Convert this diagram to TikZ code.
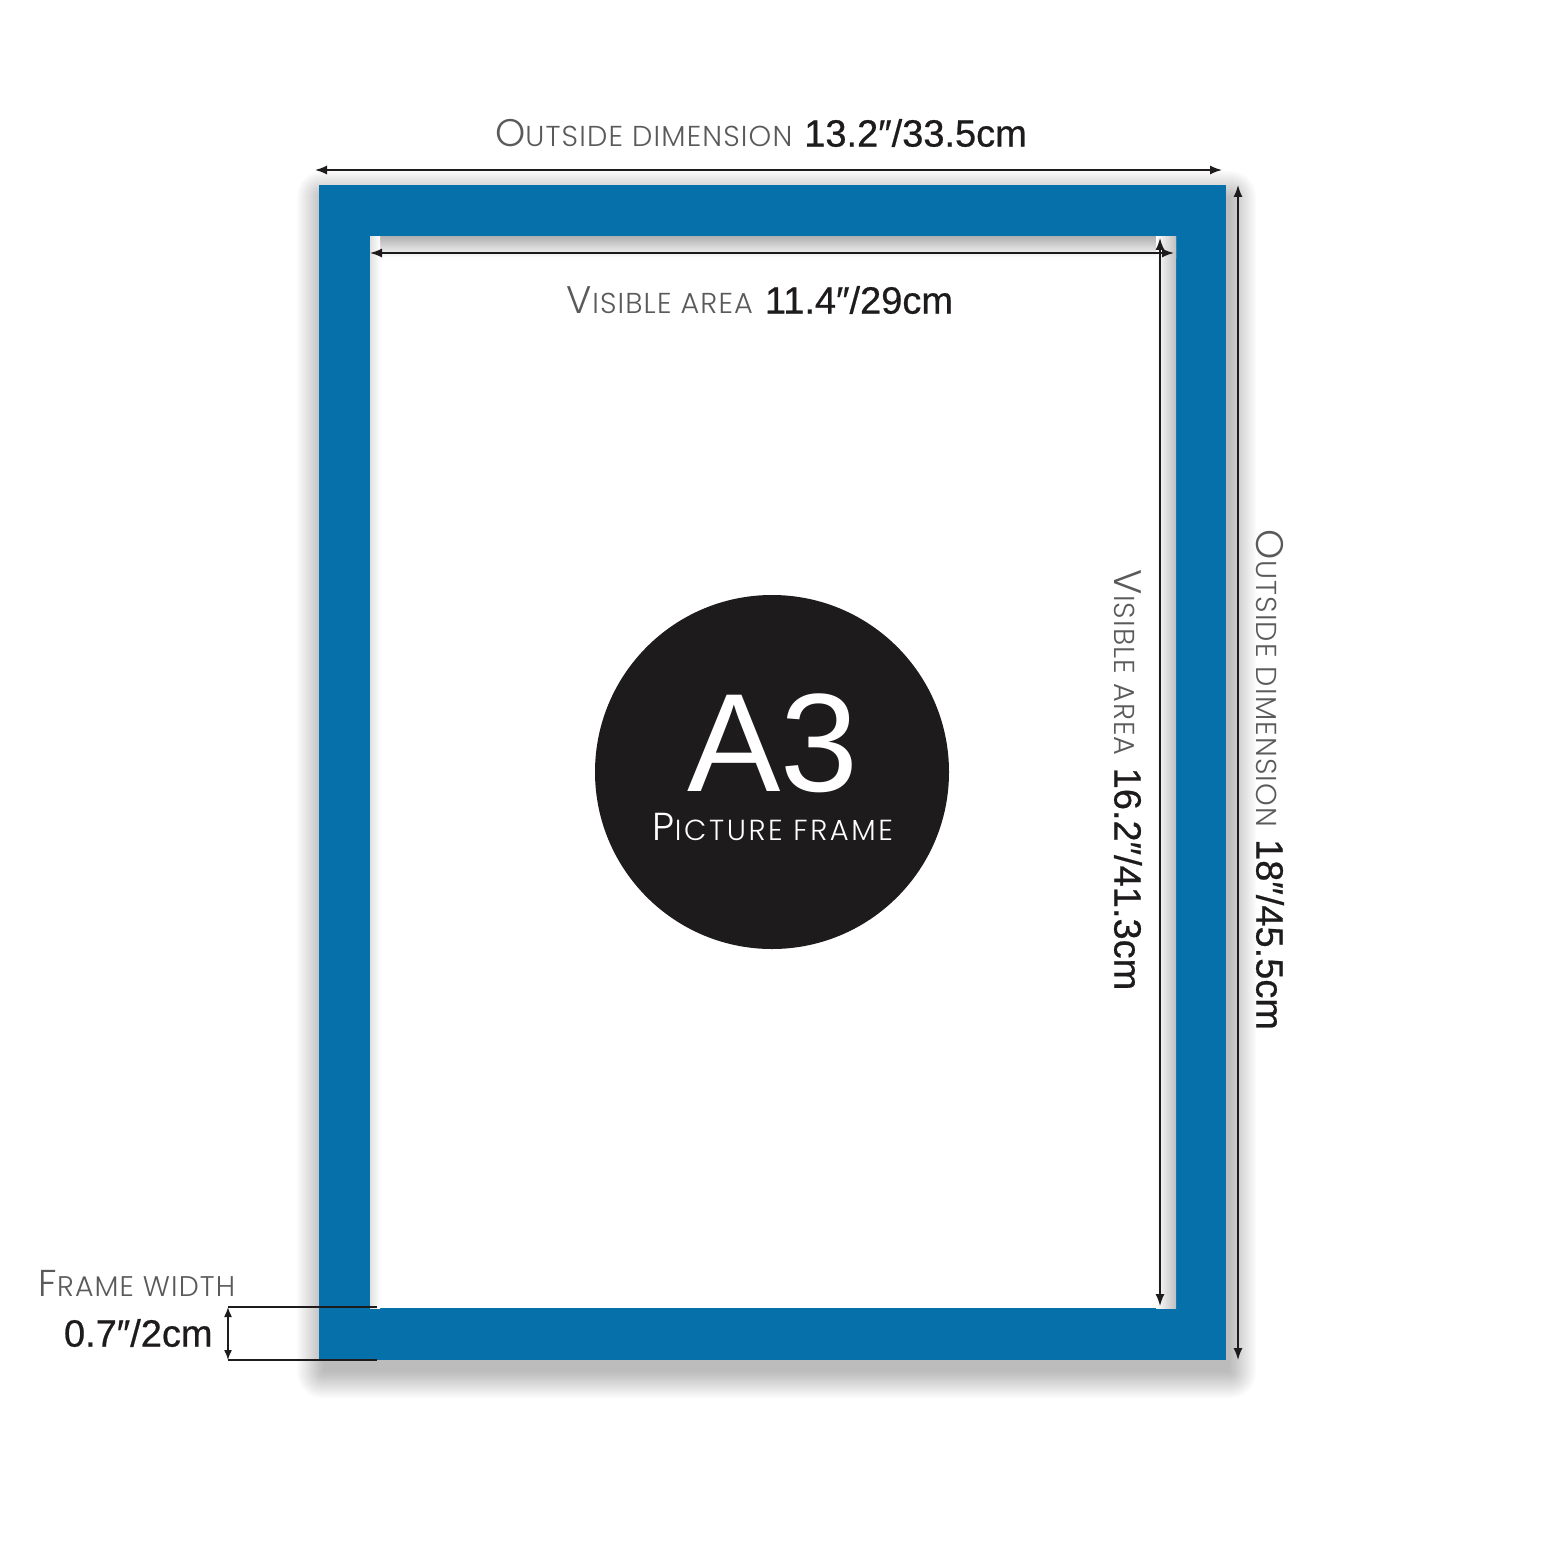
\documentclass[tikz,border=0pt]{standalone}
\usepackage{fontspec}
\setmainfont{Liberation Sans}
\newfontfamily\lightfont[LetterSpace=4]{Poppins Light}
\newfontfamily\widefont[LetterSpace=9]{Poppins Light}
\newfontfamily\numfont[FakeBold=0.6]{Liberation Sans}
\usetikzlibrary{arrows.meta}
\definecolor{frameblue}{HTML}{0670AA}
\definecolor{ink}{HTML}{1E1B1C}
\definecolor{lgray}{HTML}{5A5A5A}
\newcommand\fakesc[4]{{\fontsize{#1}{#1}\selectfont #3}{\fontsize{#2}{#2}\selectfont #4}}
\newcommand\numtxt[1]{{\numfont\color{ink}\fontsize{19}{19}\selectfont #1}}
\tikzset{
  dimline/.style={draw=ink, line width=0.75pt, {Latex[length=6pt,width=4.5pt]}-{Latex[length=6pt,width=4.5pt]}},
  extline/.style={draw=ink, line width=0.6pt},
  label/.style={inner sep=0pt, anchor=center},
}
\begin{document}
\begin{tikzpicture}[x=0.5pt,y=-0.5pt]
\useasboundingbox (0,0) rectangle (1546,1546);
\fill[white] (0,0) rectangle (1546,1546);
% coordinates
\coordinate (oTL) at (319,185);
\coordinate (oBR) at (1226,1360);
\coordinate (iTL) at (370,237);
\coordinate (iBR) at (1176,1308);
% outer drop shadow
\foreach \s in {0,2,...,26}{
  \fill[black, opacity=0.02, rounded corners=\s*0.5pt] (319-\s+4,185-\s+12) rectangle (1226+\s+4,1360+\s+12);
}
% frame
\fill[frameblue] (oTL) rectangle (oBR);
\fill[white] (iTL) rectangle (iBR);
% inner shadow
\shade[top color=black!30, bottom color=white] (370,237) rectangle (1176,257);
\shade[left color=white, right color=black!25] (1156,237) rectangle (1176,1308);
\shade[left color=black!12, right color=white] (370,237) rectangle (380,1308);
% circle
\node[circle, fill=ink, minimum size=177pt, inner sep=0pt] (circ) at (772,772) {};
\node[label, text=white] (a3) at (773,743) {\fontsize{70}{70}\selectfont A3};
\node[label, text=white] (pf) at (773,827) {\widefont\fakesc{19.5}{14.5}{P}{ICTURE FRAME}};
% top outside dimension
\coordinate (tL) at (315,170);
\coordinate (tR) at (1222,170);
\draw[dimline] (tL) -- (tR);
\node[label] (tlab) at (761,133) {{\lightfont\color{lgray}\fakesc{19.2}{14.4}{O}{UTSIDE DIMENSION}}\hspace{6pt}\numtxt{13.2″/33.5cm}};
% inner horizontal
\coordinate (hL) at (370,253);
\coordinate (hR) at (1174,253);
\draw[dimline] (hL) -- (hR);
\node[label] (vlab) at (760,300) {{\lightfont\color{lgray}\fakesc{19.2}{14.4}{V}{ISIBLE AREA}}\hspace{6pt}\numtxt{11.4″/29cm}};
% inner vertical
\coordinate (vT) at (1160,238);
\coordinate (vB) at (1160,1306);
\draw[dimline] (vT) -- (vB);
\node[label, rotate=-90] (vvlab) at (1128,780) {{\lightfont\color{lgray}\fakesc{19.2}{14.4}{V}{ISIBLE AREA}}\hspace{6pt}\numtxt{16.2″/41.3cm}};
% outer vertical
\coordinate (oT) at (1238,185);
\coordinate (oB) at (1238,1360);
\draw[dimline] (oT) -- (oB);
\node[label, rotate=-90] (ovlab) at (1270,780) {{\lightfont\color{lgray}\fakesc{19.2}{14.4}{O}{UTSIDE DIMENSION}}\hspace{6pt}\numtxt{18″/45.5cm}};
% frame width
\coordinate (fT) at (228,1307);
\coordinate (fB) at (228,1360);
\coordinate (fTe) at (377,1307);
\coordinate (fBe) at (377,1360);
\draw[extline] (fT) -- (fTe);
\draw[extline] (fB) -- (fBe);
\draw[dimline, {Latex[length=5pt,width=4pt]}-{Latex[length=5pt,width=4pt]}] (fT) -- (fB);
\node[label] (fwlab) at (137,1283) {\lightfont\color{lgray}\fakesc{18.7}{14.2}{F}{RAME WIDTH}};
\node[label, anchor=east] (fwnum) at (213,1333) {\numtxt{0.7″/2cm}};
\end{tikzpicture}
\end{document}
